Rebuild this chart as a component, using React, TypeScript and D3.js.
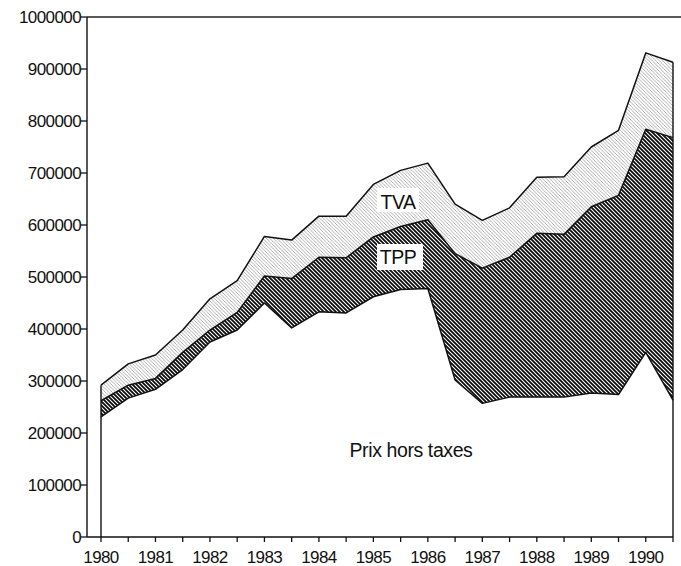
import React from "react";
import * as d3 from "d3";

// Half-year periods
const periods = [
  1980, 1980.5, 1981, 1981.5, 1982, 1982.5, 1983, 1983.5, 1984, 1984.5, 1985,
  1985.5, 1986, 1986.5, 1987, 1987.5, 1988, 1988.5, 1989, 1989.5, 1990, 1990.5,
];
const yearLabels = [1980, 1981, 1982, 1983, 1984, 1985, 1986, 1987, 1988, 1989, 1990];
const yTicks = [0, 100000, 200000, 300000, 400000, 500000, 600000, 700000, 800000, 900000, 1000000];

// Series (component values, stacked)
const prixHorsTaxes = [
  231000, 267000, 284000, 322000, 375000, 398000, 450000, 402000, 433000, 431000, 462000,
  476000, 478000, 302000, 257000, 269000, 269000, 269000, 277000, 274000, 355000, 263000,
];
const tpp = [
  31000, 25000, 21000, 33000, 23000, 34000, 52000, 95000, 105000, 106000, 115000,
  121000, 132000, 243000, 260000, 269000, 315000, 313000, 358000, 383000, 429000, 505000,
];
const tva = [
  30000, 41000, 45000, 43000, 60000, 61000, 76000, 74000, 79000, 80000, 101000,
  108000, 109000, 95000, 92000, 95000, 108000, 111000, 115000, 125000, 147000, 145000,
];
const seriesKeys = ["pht", "tpp", "tva"];

export default function App() {
  const W = 681, H = 566;
  const x = d3.scaleLinear().domain([1980, 1990.5]).range([101, 673]);
  const y = d3.scaleLinear().domain([0, 1000000]).range([537, 17]);
  const axisX = 87;

  const rows = periods.map((p, i) => ({ p, pht: prixHorsTaxes[i], tpp: tpp[i], tva: tva[i] }));
  const stacked = d3.stack<any>().keys(seriesKeys)(rows);
  const area = d3
    .area<any>()
    .x((d) => x(d.data.p))
    .y0((d) => y(d[0]))
    .y1((d) => y(d[1]));
  const topLine = d3
    .line<any>()
    .x((d) => x(d.data.p))
    .y((d) => y(d[1]));

  const fills = ["#ffffff", "url(#hatchTPP)", "url(#hatchTVA)"];
  const font = "'Liberation Sans', Arial, Helvetica, sans-serif";
  const first = stacked[2][0];
  const last = stacked[2][stacked[2].length - 1];

  return (
    <svg
      width={W}
      height={H}
      style={{ position: "absolute", left: 0, top: 0, background: "#fff" }}
      fontFamily={font}
    >
      <defs>
        <pattern id="hatchTPP" patternUnits="userSpaceOnUse" width={4} height={4}>
          <rect width={4} height={4} fill="#fff" />
          <path d="M-1,3 l2,2 M0,0 l4,4 M3,-1 l2,2" stroke="#0a0a0a" strokeWidth={1.8} />
        </pattern>
        <pattern id="hatchTVA" patternUnits="userSpaceOnUse" width={3.5} height={3.5}>
          <rect width={3.5} height={3.5} fill="#fff" />
          <path d="M-1,2.5 l2,2 M0,0 l3.5,3.5 M2.5,-1 l2,2" stroke="#999" strokeWidth={0.8} />
        </pattern>
      </defs>

      {/* areas */}
      {stacked.map((s, i) => (
        <path key={i} d={area(s) || ""} fill={fills[i]} stroke="none" />
      ))}
      {/* boundary lines */}
      {stacked.map((s, i) => (
        <path key={"l" + i} d={topLine(s) || ""} fill="none" stroke="#111" strokeWidth={1.5} strokeLinejoin="round" />
      ))}
      {/* vertical edges of the area */}
      <line x1={x(first.data.p)} x2={x(first.data.p)} y1={y(0)} y2={y(first[1])} stroke="#111" strokeWidth={1.4} />
      <line x1={x(last.data.p)} x2={x(last.data.p)} y1={y(0)} y2={y(last[1])} stroke="#111" strokeWidth={1.4} />

      {/* frame: top line and left axis */}
      <line x1={axisX} x2={W} y1={y(1000000)} y2={y(1000000)} stroke="#222" strokeWidth={1.3} />
      <line x1={axisX} x2={axisX} y1={y(0)} y2={y(1000000)} stroke="#111" strokeWidth={1.4} />
      <line x1={axisX} x2={x(1990.5)} y1={y(0)} y2={y(0)} stroke="#111" strokeWidth={1.4} />

      {/* y ticks */}
      {yTicks.map((t) => (
        <g key={t}>
          <line x1={axisX - 6} x2={axisX} y1={y(t)} y2={y(t)} stroke="#111" strokeWidth={1.3} />
          <text x={axisX - 6} y={y(t)} dy="0.38em" textAnchor="end" fontSize={17} fill="#111" letterSpacing={-0.6}>
            {t}
          </text>
        </g>
      ))}

      {/* x ticks */}
      {periods.map((p) => (
        <line key={p} x1={x(p)} x2={x(p)} y1={y(0)} y2={y(0) + 5} stroke="#111" strokeWidth={1.3} />
      ))}
      {yearLabels.map((yr) => (
        <text key={yr} x={x(yr)} y={563} textAnchor="middle" fontSize={17} fill="#111" letterSpacing={-0.6}>
          {yr}
        </text>
      ))}

      {/* series labels */}
      <rect x={377} y={188} width={42} height={24} fill="#fff" />
      <text x={398} y={209} textAnchor="middle" fontSize={19.5} fill="#111" letterSpacing={-0.5}>TVA</text>
      <rect x={377} y={244} width={46} height={26} fill="#fff" />
      <text x={398} y={264} textAnchor="middle" fontSize={19.5} fill="#111" letterSpacing={-0.5}>TPP</text>
      <text x={411} y={457} textAnchor="middle" fontSize={19.5} fill="#111" letterSpacing={-0.4}>Prix hors taxes</text>
    </svg>
  );
}
